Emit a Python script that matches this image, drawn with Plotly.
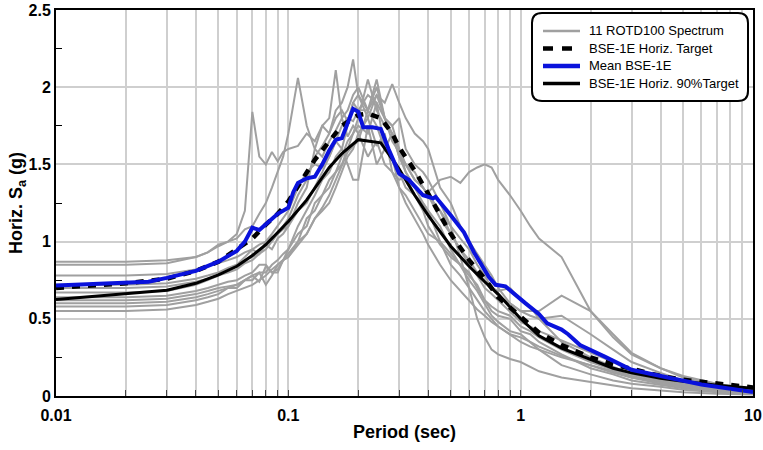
import plotly.graph_objects as go

# ---------------- data ----------------
periods = [0.01, 0.02, 0.03, 0.04,
           0.045, 0.05, 0.055, 0.06, 0.065, 0.07, 0.075, 0.08, 0.085, 0.09, 0.095,
           0.1, 0.11, 0.12, 0.13, 0.14, 0.15, 0.16, 0.17, 0.18, 0.19, 0.2,
           0.22, 0.24, 0.26, 0.28, 0.3,
           0.32, 0.35, 0.38, 0.4,
           0.45, 0.5, 0.55, 0.6, 0.65, 0.7, 0.75, 0.8,
           0.9, 1.0, 1.1, 1.2, 1.5,
           2.0, 2.5, 3.0, 4.0, 5.0, 7.0, 10.0]

g1 = [.87, .87, .88, .90,
      .93, .97, 1.00, 1.05, 1.20, 1.84, 1.55, 1.50, 1.58, 1.52, 1.58,
      1.60, 1.62, 1.70, 1.65, 1.75, 1.70, 1.80, 1.85, 1.78, 1.90, 1.95,
      1.80, 1.62, 1.70, 1.45, 1.40,
      1.42, 1.30, 1.20, 1.10,
      .98, .90, .85, .78, .72, .62, .58, .55,
      .52, .45, .42, .38, .30,
      .22, .17, .13, .09, .07, .045, .02]
g2 = [.85, .85, .86, .90,
      .93, .98, 1.00, 1.02, 1.08, 1.10, 1.18, 1.25, 1.35, 1.45, 1.55,
      1.70, 2.06, 1.75, 1.60, 1.55, 1.65, 1.72, 1.80, 1.68, 1.75, 1.70,
      1.55, 1.65, 1.50, 1.45, 1.35,
      1.30, 1.20, 1.10, 1.05,
      1.00, .92, .85, .80, .70, .62, .55, .52,
      .50, .42, .40, .35, .27,
      .18, .14, .10, .07, .05, .03, .015]
g3 = [.78, .78, .79, .82,
      .84, .86, .88, .90, .93, .95, .98, 1.00, 1.03, 1.05, 1.08,
      1.10, 1.20, 1.25, 1.35, 1.45, 1.55, 1.65, 1.75, 1.80, 1.78, 1.85,
      1.95, 1.90, 1.80, 1.70, 1.60,
      1.45, 1.35, 1.30, 1.32,
      1.40, 1.42, 1.38, 1.45, 1.48, 1.50, 1.48, 1.40,
      1.30, 1.20, 1.10, 1.02, .90,
      .55, .38, .27, .18, .13, .08, .04]
g4 = [.72, .72, .73, .76,
      .78, .80, .83, .85, .88, .90, .92, .95, 1.00, 1.05, 1.10,
      1.15, 1.30, 1.40, 1.55, 1.62, 1.70, 1.85, 1.90, 2.00, 2.18, 1.95,
      1.85, 2.05, 1.80, 1.75, 1.60,
      1.50, 1.45, 1.35, 1.30,
      1.20, 1.05, .95, .85, .78, .70, .66, .62,
      .55, .48, .45, .42, .36,
      .28, .22, .16, .11, .08, .05, .02]
g5 = [.70, .70, .71, .74,
      .76, .78, .80, .82, .86, .88, .92, .98, .95, 1.02, 1.05,
      1.10, 1.25, 1.35, 1.60, 1.75, 1.80, 2.11, 1.80, 1.85, 1.95, 2.00,
      1.85, 1.75, 1.60, 1.70, 1.55,
      1.50, 1.40, 1.35, 1.30,
      1.20, 1.10, 1.02, .95, .85, .78, .70, .65,
      .60, .55, .52, .50, .52,
      .40, .30, .22, .15, .10, .06, .03]
g6 = [.67, .67, .68, .72,
      .75, .78, .82, .85, .90, .95, .92, 1.00, 1.05, 1.10, 1.15,
      1.20, 1.35, 1.45, 1.50, 1.48, 1.55, 1.65, 1.60, 1.75, 1.90, 1.85,
      1.85, 2.00, 1.80, 1.65, 1.58,
      1.50, 1.40, 1.35, 1.30,
      1.15, 1.05, .95, .88, .80, .75, .70, .68,
      .70, .62, .58, .50, .35,
      .25, .19, .14, .10, .07, .05, .035]
g7 = [.64, .64, .65, .68,
      .70, .72, .74, .75, .78, .80, .85, .85, .80, .82, .88,
      .90, 1.00, 1.05, 1.15, 1.20, 1.25, 1.35, 1.45, 1.55, 1.60, 1.70,
      1.80, 1.95, 1.90, 2.02, 1.90,
      1.80, 1.70, 1.65, 1.60,
      1.35, 1.25, 1.10, 1.00, .92, .85, .78, .70,
      .60, .55, .55, .55, .65,
      .55, .40, .28, .18, .12, .07, .03]
g8 = [.62, .62, .63, .66,
      .68, .70, .71, .72, .75, .78, .74, .84, .80, .80, .88,
      .95, 1.05, 1.10, 1.25, 1.30, 1.35, 1.45, 1.50, 1.60, 1.70, 1.75,
      1.70, 1.90, 1.60, 1.55, 1.45,
      1.35, 1.30, 1.25, 1.20,
      1.00, .85, .78, .70, .62, .55, .50, .45,
      .40, .38, .35, .32, .26,
      .20, .15, .12, .09, .06, .04, .02]
g9 = [.60, .60, .61, .64,
      .66, .68, .70, .72, .75, .78, .80, .72, .78, .85, .88,
      .92, 1.00, 1.15, 1.20, 1.30, 1.40, 1.45, 1.55, 1.65, 1.70, 1.80,
      2.05, 1.85, 1.75, 1.70, 1.55,
      1.45, 1.35, 1.25, 1.20,
      1.10, .95, .85, .75, .68, .60, .52, .48,
      .42, .40, .35, .30, .20,
      .14, .10, .08, .06, .04, .025, .015]
g10 = [.58, .58, .59, .62,
       .64, .66, .70, .70, .75, .75, .80, .80, .85, .88, .92,
       .95, 1.10, 1.20, 1.30, 1.40, 1.45, 1.55, 1.60, 1.50, 1.40, 1.40,
       1.75, 1.50, 1.60, 1.55, 1.35,
       1.25, 1.15, 1.05, .98,
       .85, .75, .68, .62, .56, .52, .48, .45,
       .40, .35, .32, .30, .25,
       .20, .16, .12, .08, .06, .04, .02]
g11 = [.55, .55, .56, .59,
       .61, .63, .66, .68, .70, .72, .75, .78, .82, .85, .88,
       .90, .98, 1.05, 1.15, 1.22, 1.30, 1.40, 1.50, 1.58, 1.62, 1.65,
       1.85, 1.95, 1.80, 1.75, 1.80,
       1.60, 1.50, 1.45, 1.40,
       1.25, 1.10, .90, .70, .50, .38, .30, .27,
       .24, .22, .19, .16, .12,
       .09, .07, .05, .035, .025, .015, .01]
gray_series = [g1, g2, g3, g4, g5, g6, g7, g8, g9, g10, g11]

target_T = [0.01, 0.02, 0.03, 0.04, 0.05, 0.06, 0.07, 0.08, 0.09, 0.1, 0.12, 0.13, 0.15, 0.17, 0.2, 0.22,
            0.25, 0.28, 0.3, 0.35, 0.4, 0.5, 0.6, 0.7, 0.8, 1.0, 1.2, 1.5, 2.0, 2.5, 3.0, 4.0, 5.0, 7.0, 10.0]
target_sa = [0.70, 0.73, 0.76, 0.81, 0.87, 0.95, 1.02, 1.11, 1.18, 1.26, 1.44, 1.53, 1.65, 1.75, 1.82, 1.83,
             1.80, 1.70, 1.61, 1.46, 1.31, 1.05, 0.88, 0.76, 0.64, 0.51, 0.41, 0.33, 0.25, 0.205, 0.175, 0.13,
             0.105, 0.08, 0.055]

t90_T = [0.01, 0.02, 0.03, 0.04, 0.05, 0.06, 0.07, 0.08, 0.09, 0.1, 0.12, 0.15, 0.17, 0.2, 0.25, 0.3, 0.35,
         0.4, 0.5, 0.6, 0.7, 0.8, 1.0, 1.2, 1.5, 2.0, 2.5, 3.0, 4.0, 5.0, 7.0, 10.0]
t90_sa = [0.625, 0.66, 0.685, 0.73, 0.785, 0.84, 0.91, 0.98, 1.06, 1.13, 1.27, 1.48, 1.57, 1.66, 1.64, 1.47,
          1.30, 1.17, 0.97, 0.84, 0.74, 0.66, 0.50, 0.39, 0.31, 0.235, 0.18, 0.15, 0.115, 0.095, 0.07, 0.05]

mean_T = [0.01, 0.02, 0.025, 0.03, 0.04, 0.05, 0.06, 0.065, 0.07, 0.075, 0.08, 0.09, 0.1, 0.105, 0.11, 0.12,
          0.13, 0.14, 0.15, 0.16, 0.17, 0.18, 0.19, 0.2, 0.21, 0.23, 0.25, 0.27, 0.3, 0.33, 0.38, 0.42,
          0.43, 0.5, 0.57, 0.63, 0.73, 0.78, 0.86, 1.05, 1.2, 1.3, 1.5, 1.6, 1.8, 2.3, 3.0, 4.3, 6.0, 10.0]
mean_sa = [0.715, 0.73, 0.74, 0.765, 0.81, 0.87, 0.94, 1.0, 1.09, 1.075, 1.11, 1.18, 1.22, 1.32, 1.38, 1.41,
           1.42, 1.50, 1.59, 1.66, 1.67, 1.77, 1.86, 1.84, 1.74, 1.74, 1.73, 1.60, 1.44, 1.40, 1.30, 1.28,
           1.29, 1.17, 1.06, 0.93, 0.77, 0.72, 0.71, 0.60, 0.53, 0.47, 0.43, 0.40, 0.33, 0.255, 0.17, 0.12,
           0.074, 0.025]

x_tickvals = [0.01, 0.02, 0.03, 0.04, 0.05, 0.06, 0.07, 0.08, 0.09,
              0.1, 0.2, 0.3, 0.4, 0.5, 0.6, 0.7, 0.8, 0.9,
              1, 2, 3, 4, 5, 6, 7, 8, 9, 10]
x_ticktext = ["0.01"] + [""] * 8 + ["0.1"] + [""] * 8 + ["1"] + [""] * 8 + ["10"]

legend_labels = ["11 ROTD100 Spectrum", "BSE-1E Horiz. Target", "Mean BSE-1E", "BSE-1E Horiz. 90%Target"]

# ---------------- styles ----------------
FONT = "Arial, Liberation Sans, sans-serif"
GRAY = "#a0a0a0"
BLUE = "#0a12dc"
styles = [dict(color=GRAY, width=2.5),
          dict(color="black", width=4.5, dash="10px,9px"),
          dict(color=BLUE, width=4.5),
          dict(color="black", width=3.5)]

fig = go.Figure()

for i, g in enumerate(gray_series):
    fig.add_trace(go.Scatter(x=periods, y=g, mode="lines",
                             line=dict(color=GRAY, width=2),
                             name=legend_labels[0], showlegend=False))

fig.add_trace(go.Scatter(x=t90_T, y=t90_sa, mode="lines", line=dict(color="black", width=3),
                         name=legend_labels[3], showlegend=False))
fig.add_trace(go.Scatter(x=target_T, y=target_sa, mode="lines",
                         line=dict(color="black", width=4.5, dash="8px,8px"),
                         name=legend_labels[1], showlegend=False))
fig.add_trace(go.Scatter(x=mean_T, y=mean_sa, mode="lines", line=dict(color=BLUE, width=4),
                         name=legend_labels[2], showlegend=False))

# plot-area pixel geometry
L, R, T, B = 56, 753, 10, 396
W, H = R - L, B - T
def px(x):
    return (x - L) / W
def py(y):
    return (B - y) / H

# rounded legend frame
x0, x1, y0, y1, r = 532, 748, 13, 101, 10
path = (f"M {px(x0 + r)},{py(y0)} L {px(x1 - r)},{py(y0)} Q {px(x1)},{py(y0)} {px(x1)},{py(y0 + r)} "
        f"L {px(x1)},{py(y1 - r)} Q {px(x1)},{py(y1)} {px(x1 - r)},{py(y1)} "
        f"L {px(x0 + r)},{py(y1)} Q {px(x0)},{py(y1)} {px(x0)},{py(y1 - r)} "
        f"L {px(x0)},{py(y0 + r)} Q {px(x0)},{py(y0)} {px(x0 + r)},{py(y0)} Z")
fig.add_shape(type="path", path=path, xref="paper", yref="paper",
              line=dict(color="black", width=2), fillcolor="white", layer="above")

# legend entries (sample line + text)
row_y = [31, 48.5, 66, 83.5]
for lab, st, yy in zip(legend_labels, styles, row_y):
    fig.add_shape(type="line", xref="paper", yref="paper",
                  x0=px(543), x1=px(580), y0=py(yy), y1=py(yy),
                  line=st, layer="above")
    fig.add_annotation(xref="paper", yref="paper", x=px(587), y=py(yy),
                       text=lab, showarrow=False, xanchor="left", yanchor="middle",
                       font=dict(family=FONT, size=13, color="black"))

fig.update_layout(
    width=763, height=450,
    margin=dict(l=L, r=763 - R, t=T, b=450 - B, autoexpand=False),
    paper_bgcolor="white", plot_bgcolor="white",
    font=dict(family=FONT, color="black"),
    showlegend=False,
)

fig.update_xaxes(type="log", range=[-2, 1], automargin=False,
                 tickmode="array", tickvals=x_tickvals, ticktext=x_ticktext,
                 ticks="inside", ticklen=6, tickcolor="#444", tickwidth=1,
                 ticklabeloverflow="allow", ticklabelstandoff=4,
                 showgrid=True, gridcolor="#cfcfcf", gridwidth=1.5,
                 showline=True, linecolor="black", linewidth=2, mirror=True,
                 tickfont=dict(family=FONT, size=16, color="black", weight="bold"),
                 title=dict(text="<b>Period (sec)</b>", font=dict(family=FONT, size=18, color="black"),
                            standoff=2),
                 zeroline=False)

fig.update_yaxes(range=[0, 2.5], dtick=0.5, tick0=0, automargin=False,
                 ticks="", showgrid=True, gridcolor="#cfcfcf", gridwidth=1.5,
                 minor=dict(dtick=0.25, ticks="inside", ticklen=6, tickcolor="black", showgrid=False),
                 showline=True, linecolor="black", linewidth=2, mirror=True,
                 ticklabeloverflow="allow",
                 tickfont=dict(family=FONT, size=16, color="black", weight="bold"),
                 title=dict(text="<b>Horiz. S<sub>a</sub> (g)</b>",
                            font=dict(family=FONT, size=18, color="black"), standoff=0),
                 zeroline=False)

fig.write_html("out.html")
